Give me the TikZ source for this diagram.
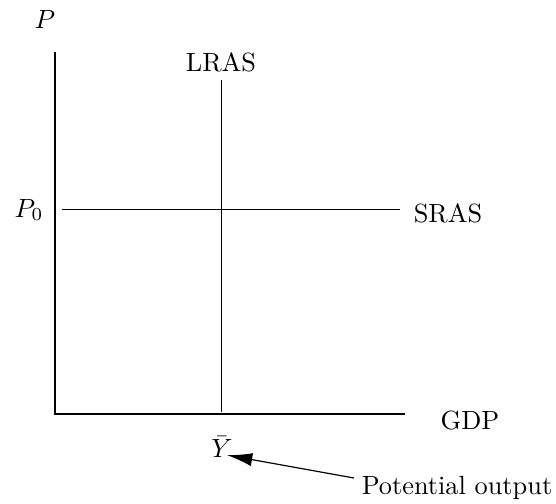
\documentclass[tikz,border=0pt]{standalone}
\usetikzlibrary{arrows.meta}
\begin{document}
\begin{tikzpicture}[x=0.38pt,y=-0.38pt,
  axis/.style={line width=0.4pt},
  curve/.style={line width=0.35pt},
  lbl/.style={inner sep=0pt,font=\normalsize},
  pointer/.style={line width=0.45pt,-{Latex[length=9.5pt,width=5pt]}}]
\useasboundingbox (0,0) rectangle (556,503);
\coordinate (o) at (55,414);
\coordinate (ytop) at (55,52);
\coordinate (xend) at (405,414);
\coordinate (lt) at (221,80);
\coordinate (lb) at (221,412);
\coordinate (sl) at (62,209);
\coordinate (sr) at (400,209);
\node[lbl] (p) at (45,20) {$P$};
\node[lbl] (p0) at (29,210) {$P_0$};
\node[lbl] (lras) at (221,62) {LRAS};
\node[lbl] (sras) at (448,213) {SRAS};
\node[lbl] (gdp) at (470,420) {GDP};
\node[lbl] (yb) at (222,447) {$\bar{Y}$};
\node[lbl] (po) at (457,488) {Potential output};
\coordinate (as) at (354,478);
\draw[axis] (ytop) -- (o) -- (xend);
\draw[curve] (lt) -- (lb);
\draw[curve] (sl) -- (sr);
\draw[pointer] (as) -- ([xshift=-2.2pt,yshift=1.2pt]yb.south east);
\end{tikzpicture}
\end{document}
